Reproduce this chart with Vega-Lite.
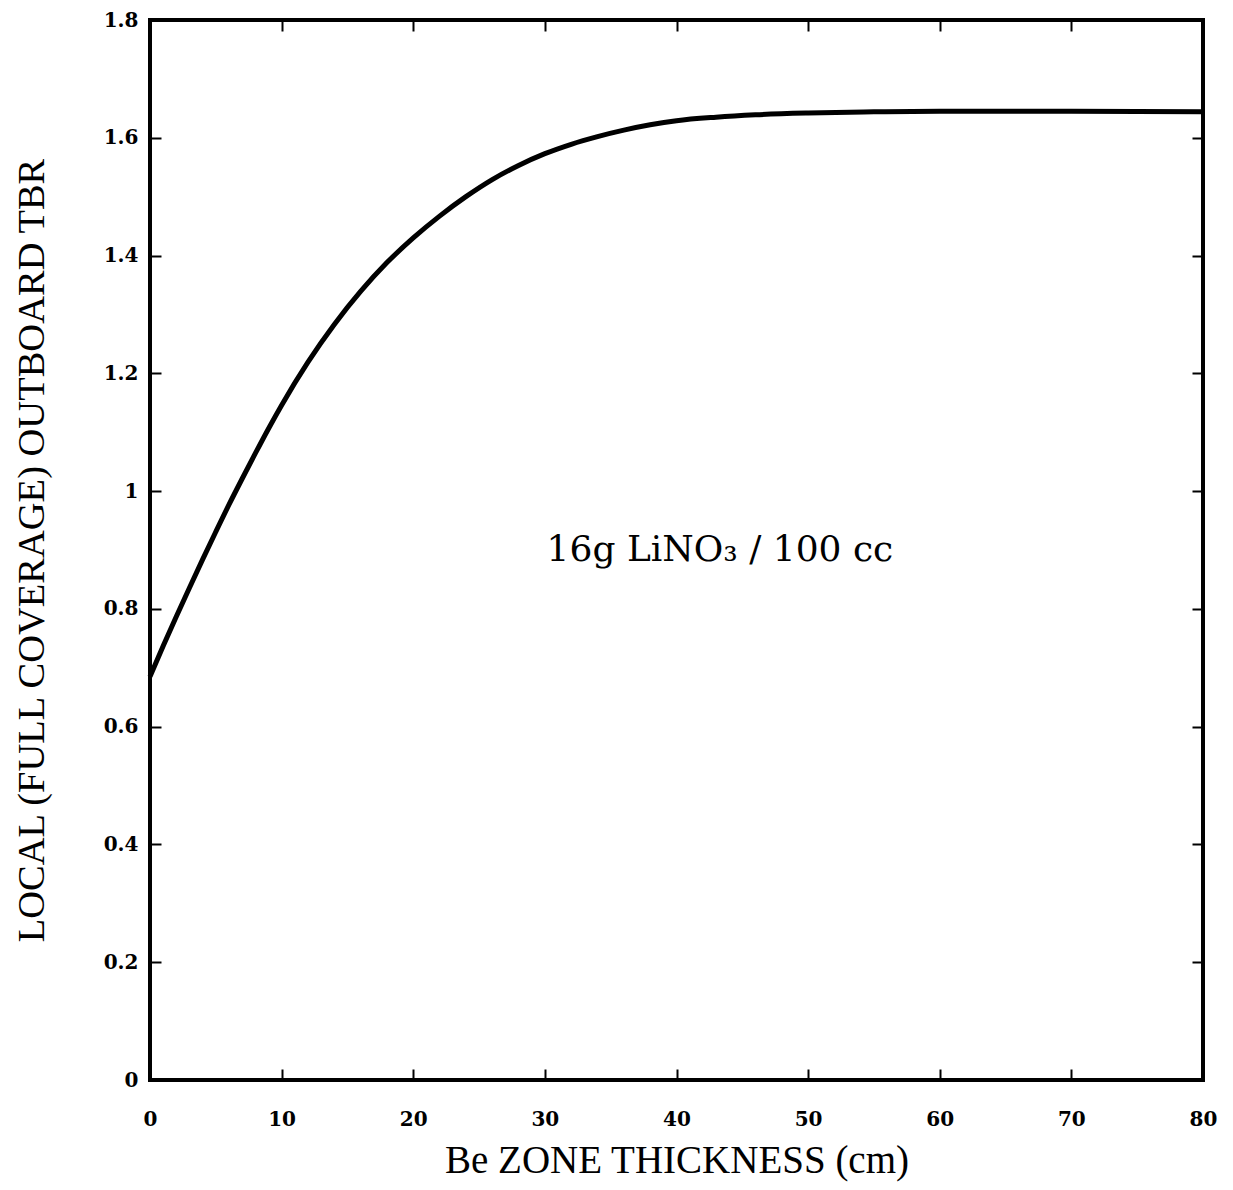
{
  "$schema": "https://vega.github.io/schema/vega-lite/v6.json",
  "width": 1053,
  "height": 1060,
  "autosize": "none",
  "padding": {"left": 150, "top": 20, "right": 30, "bottom": 110},
  "background": "white",
  "config": {
    "view": {"stroke": "black", "strokeWidth": 4},
    "axis": {
      "domain": false,
      "grid": false,
      "ticks": true,
      "tickColor": "black",
      "tickWidth": 2,
      "tickSize": -11,
      "labelFlush": false,
      "labelFont": "DejaVu Serif",
      "labelFontSize": 20,
      "labelFontWeight": "bold",
      "labelColor": "black",
      "titleFont": "Liberation Serif",
      "titleFontWeight": "normal",
      "titleColor": "black"
    }
  },
  "datasets": {
    "curve": [
      {"x": 0, "y": 0.685},
      {"x": 1, "y": 0.737},
      {"x": 2, "y": 0.787},
      {"x": 3, "y": 0.836},
      {"x": 4, "y": 0.884},
      {"x": 5, "y": 0.931},
      {"x": 6, "y": 0.977},
      {"x": 7, "y": 1.021},
      {"x": 8, "y": 1.064},
      {"x": 9, "y": 1.106},
      {"x": 10, "y": 1.146},
      {"x": 12, "y": 1.219},
      {"x": 14, "y": 1.283},
      {"x": 16, "y": 1.339},
      {"x": 18, "y": 1.388},
      {"x": 20, "y": 1.43},
      {"x": 22, "y": 1.467},
      {"x": 24, "y": 1.5},
      {"x": 26, "y": 1.529},
      {"x": 28, "y": 1.553},
      {"x": 30, "y": 1.573},
      {"x": 32, "y": 1.589},
      {"x": 34, "y": 1.602},
      {"x": 36, "y": 1.613},
      {"x": 38, "y": 1.622},
      {"x": 40, "y": 1.629},
      {"x": 43, "y": 1.635},
      {"x": 46, "y": 1.639},
      {"x": 50, "y": 1.642},
      {"x": 55, "y": 1.644},
      {"x": 60, "y": 1.645},
      {"x": 70, "y": 1.645},
      {"x": 80, "y": 1.644}
    ],
    "note": [
      {"x": 43.3, "y": 0.9, "label": "16g LiNO₃ / 100 cc"}
    ]
  },
  "layer": [
    {
      "data": {"name": "curve"},
      "mark": {"type": "line", "color": "black", "strokeWidth": 5, "interpolate": "monotone"},
      "encoding": {
        "x": {
          "field": "x", "type": "quantitative",
          "scale": {"domain": [0, 80], "nice": false},
          "axis": {"orient": "bottom", "values": [0, 10, 20, 30, 40, 50, 60, 70, 80], "labelPadding": 40, "title": "Be ZONE THICKNESS (cm)", "titleFontSize": 39, "titlePadding": 12}
        },
        "y": {
          "field": "y", "type": "quantitative",
          "scale": {"domain": [0, 1.8], "nice": false},
          "axis": {"orient": "left", "values": [0, 0.2, 0.4, 0.6, 0.8, 1, 1.2, 1.4, 1.6, 1.8], "format": "~g", "labelPadding": 23, "title": "LOCAL (FULL COVERAGE) OUTBOARD TBR", "titleFontSize": 38.5, "titlePadding": 52}
        }
      }
    },
    {
      "data": {"name": "curve"},
      "mark": {"type": "point", "opacity": 0},
      "encoding": {
        "x": {
          "field": "x", "type": "quantitative",
          "scale": {"domain": [0, 80], "nice": false},
          "axis": {"orient": "top", "values": [10, 20, 30, 40, 50, 60, 70], "labels": false, "title": null}
        },
        "y": {
          "field": "y", "type": "quantitative",
          "scale": {"domain": [0, 1.8], "nice": false},
          "axis": {"orient": "right", "values": [0.2, 0.4, 0.6, 0.8, 1, 1.2, 1.4, 1.6], "labels": false, "title": null}
        }
      }
    },
    {
      "data": {"name": "note"},
      "mark": {"type": "text", "font": "DejaVu Serif", "fontSize": 36, "color": "black", "align": "center", "baseline": "middle"},
      "encoding": {
        "x": {"field": "x", "type": "quantitative", "axis": null},
        "y": {"field": "y", "type": "quantitative", "axis": null},
        "text": {"field": "label"}
      }
    }
  ],
  "resolve": {"axis": {"x": "independent", "y": "independent"}}
}
